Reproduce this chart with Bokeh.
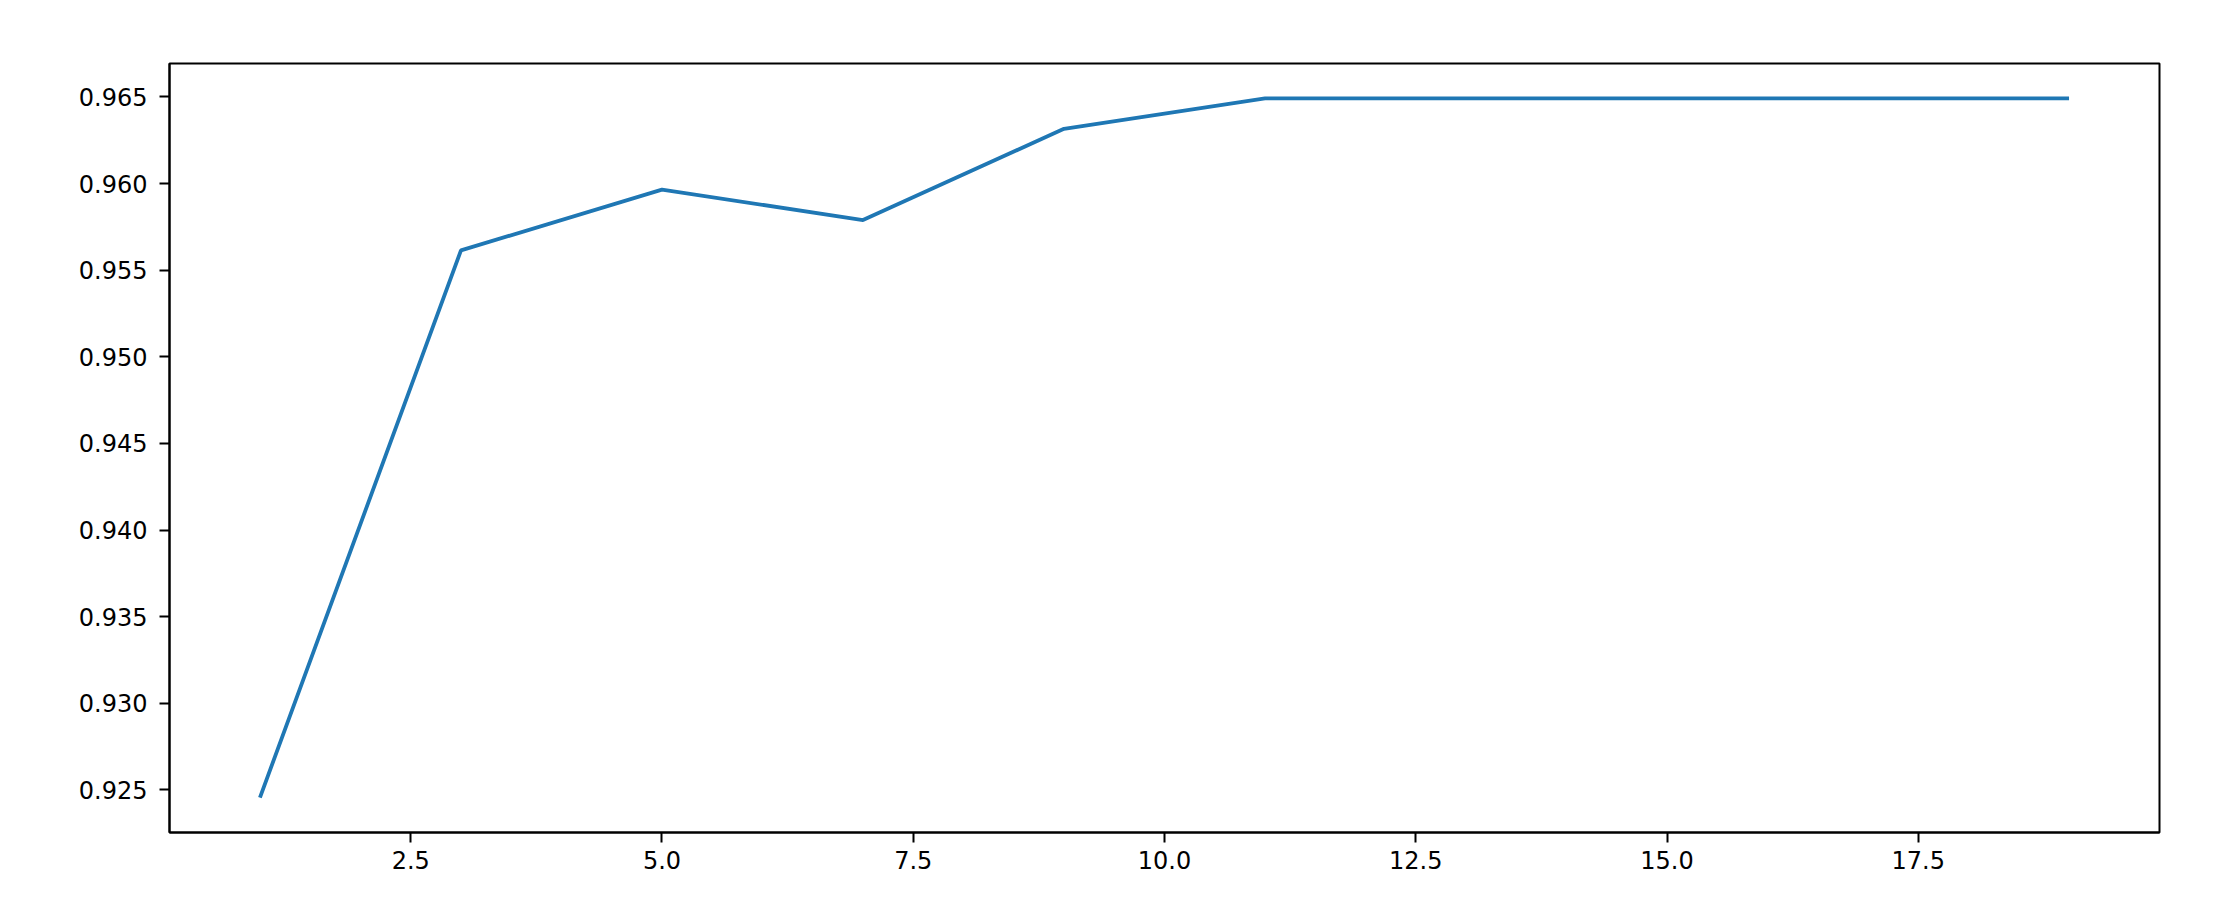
from bokeh.plotting import figure
from bokeh.models import Range1d, FixedTicker, PrintfTickFormatter
from bokeh.embed import file_html
from bokeh.resources import INLINE

# Data
k_values = [1, 3, 5, 7, 9, 11, 13, 15, 17, 19]
accuracy = [0.92456, 0.95614, 0.95965, 0.95789, 0.96316,
            0.96491, 0.96491, 0.96491, 0.96491, 0.96491]
x_ticks = [2.5, 5.0, 7.5, 10.0, 12.5, 15.0, 17.5]
y_ticks = [0.925, 0.930, 0.935, 0.940, 0.945, 0.950, 0.955, 0.960, 0.965]

xmin, xmax = min(k_values), max(k_values)
ymin, ymax = min(accuracy), max(accuracy)
xm = (xmax - xmin) * 0.05
ym = (ymax - ymin) * 0.05

p = figure(width=2219, height=895, output_backend="svg", toolbar_location=None,
           x_range=Range1d(xmin - xm, xmax + xm), y_range=Range1d(ymin - ym, ymax + ym),
           min_border_left=169, min_border_top=63, min_border_right=60, min_border_bottom=63)

p.line(k_values, accuracy, line_color="#1f77b4", line_width=3.8)

p.xgrid.visible = False
p.ygrid.visible = False
p.outline_line_color = "black"
p.outline_line_width = 2
p.outline_line_alpha = 1.0
p.background_fill_color = "white"
p.border_fill_color = "white"

p.xaxis.ticker = FixedTicker(ticks=x_ticks)
p.yaxis.ticker = FixedTicker(ticks=y_ticks)
p.xaxis.formatter = PrintfTickFormatter(format="%.1f")
p.yaxis.formatter = PrintfTickFormatter(format="%.3f")

for ax in (p.xaxis, p.yaxis):
    ax.axis_line_width = 2
    ax.axis_line_color = "black"
    ax.major_tick_line_width = 2
    ax.major_tick_line_color = "black"
    ax.major_tick_out = 10
    ax.major_tick_in = 0
    ax.minor_tick_line_color = None
    ax.major_label_text_font = "DejaVu Sans"
    ax.major_label_text_font_size = "24px"
    ax.major_label_text_color = "black"

p.xaxis.major_label_standoff = 8
p.yaxis.major_label_standoff = 12

open("out.html", "w").write(file_html(p, INLINE))
